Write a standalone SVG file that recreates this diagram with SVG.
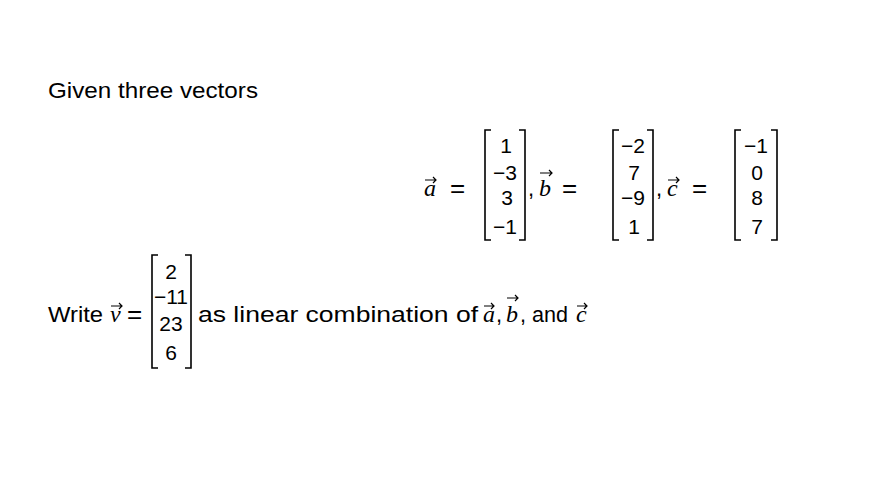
<svg xmlns="http://www.w3.org/2000/svg" width="870" height="480" viewBox="0 0 870 480">
<style>
text{font-family:"Liberation Sans",Arial,sans-serif;font-size:22px;fill:#000}
.n{font-size:21px;text-anchor:middle}
.e{font-size:26px}
.i{font-family:"Liberation Serif","Times New Roman",serif;font-style:italic;font-size:24px}
.br{fill:none;stroke:#000;stroke-width:1.6}
.ar{fill:none;stroke:#000;stroke-width:1.2}
</style>
<rect width="870" height="480" fill="#fff"/>
<g id="title"><text x="48" y="98" textLength="210" lengthAdjust="spacingAndGlyphs">Given three vectors</text></g>
<g id="vec-a">
<text class="i" x="424" y="196">a</text><path class="ar" d="M425 180h11M433 177l3 3-3 3"/>
<text class="e" x="450" y="197">=</text>
<path class="br" d="M491 130h-6v110h6M519 130h6v110h-6"/>
<text class="n" x="506" y="153">1</text><text class="n" x="505" y="180">−3</text><text class="n" x="507" y="205">3</text><text class="n" x="505" y="234">−1</text>
</g>
<g id="vec-b">
<text x="528" y="196">,</text>
<text class="i" x="539" y="196">b</text><path class="ar" d="M540 173h12M549 170l3 3-3 3"/>
<text class="e" x="562" y="197">=</text>
<path class="br" d="M619 130h-6v110h6M647 130h6v110h-6"/>
<text class="n" x="633" y="153">−2</text><text class="n" x="634" y="180">7</text><text class="n" x="633" y="205">−9</text><text class="n" x="634" y="234">1</text>
</g>
<g id="vec-c">
<text x="656" y="196">,</text>
<text class="i" x="667" y="196">c</text><path class="ar" d="M668 180h11M676 177l3 3-3 3"/>
<text class="e" x="692" y="197">=</text>
<path class="br" d="M741 130h-6v110h6M771 130h6v110h-6"/>
<text class="n" x="756" y="153">−1</text><text class="n" x="757" y="180">0</text><text class="n" x="757" y="205">8</text><text class="n" x="757" y="234">7</text>
</g>
<g id="vec-v">
<text x="48" y="322" textLength="55" lengthAdjust="spacingAndGlyphs">Write</text>
<text class="i" x="110" y="322">v</text><path class="ar" d="M111 306h11M119 303l3 3-3 3"/>
<text class="e" x="127" y="323">=</text>
<path class="br" d="M158 255h-6v113h6M185 255h6v113h-6"/>
<text class="n" x="171" y="279">2</text><text class="n" x="171" y="304" textLength="34" lengthAdjust="spacingAndGlyphs">−11</text><text class="n" x="171" y="331">23</text><text class="n" x="171" y="360">6</text>
<text x="198" y="322" textLength="280" lengthAdjust="spacingAndGlyphs">as linear combination of</text>
<text class="i" x="483" y="322">a</text><path class="ar" d="M484 306h10M491 303l3 3-3 3"/>
<text x="496" y="322">,</text>
<text class="i" x="506" y="322">b</text><path class="ar" d="M507 298h11M515 295l3 3-3 3"/>
<text x="520" y="322" textLength="48" lengthAdjust="spacingAndGlyphs">, and</text>
<text class="i" x="576" y="322">c</text><path class="ar" d="M577 306h10M584 303l3 3-3 3"/>
</g>
</svg>
